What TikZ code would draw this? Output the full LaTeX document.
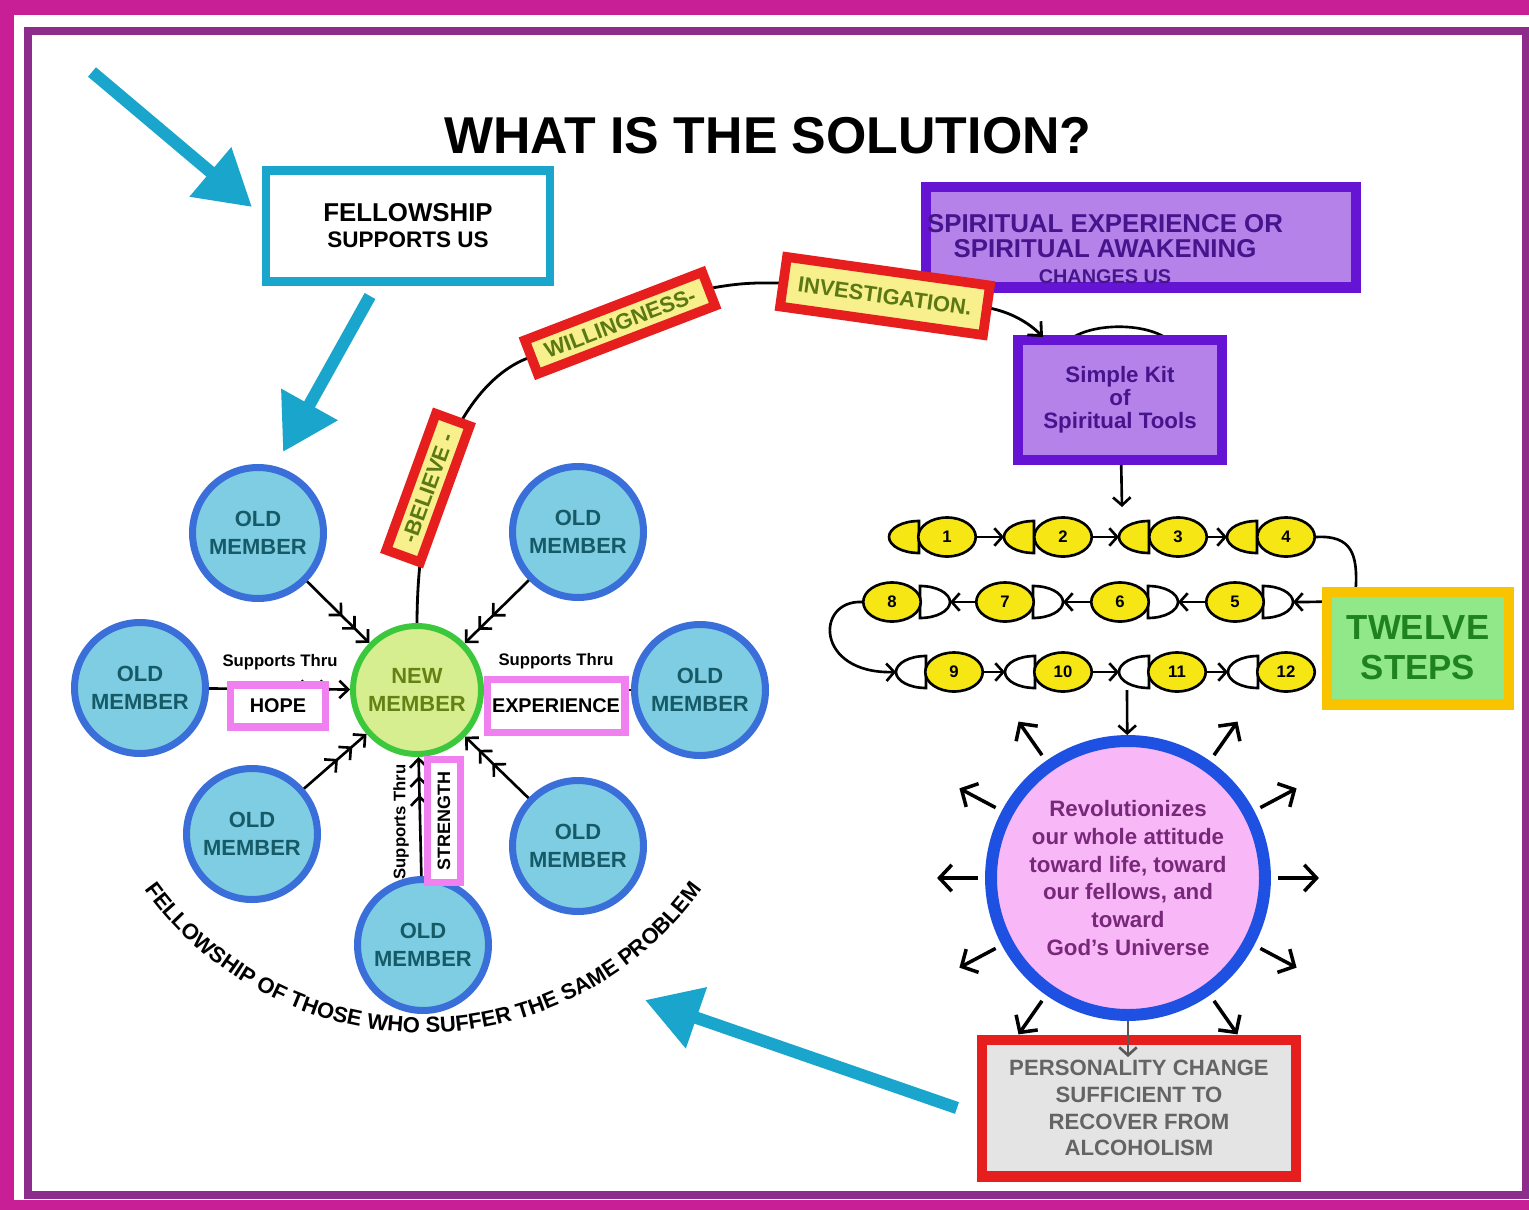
\documentclass[tikz,border=0pt]{standalone}
\usepackage{fontspec}
\setmainfont{Liberation Sans}
\usepackage{xcolor}
\usetikzlibrary{positioning, arrows.meta, shapes.geometric, decorations.text}

\definecolor{framemag}{RGB}{200,30,150}
\definecolor{framepurple}{RGB}{142,44,140}
\definecolor{arrowcyan}{RGB}{26,166,204}
\definecolor{oldfill}{RGB}{126,205,226}
\definecolor{oldline}{RGB}{58,110,216}
\definecolor{oldtext}{RGB}{22,90,104}
\definecolor{newfill}{RGB}{214,238,144}
\definecolor{newline}{RGB}{60,200,60}
\definecolor{newtext}{RGB}{100,130,20}
\definecolor{pinkline}{RGB}{240,128,240}
\definecolor{tagred}{RGB}{230,30,30}
\definecolor{tagyellow}{RGB}{248,240,140}
\definecolor{tagtext}{RGB}{90,120,20}
\definecolor{spline}{RGB}{100,20,210}
\definecolor{spfill}{RGB}{180,130,232}
\definecolor{sptext}{RGB}{70,20,140}
\definecolor{stepyellow}{RGB}{245,230,20}
\definecolor{twelveline}{RGB}{250,195,0}
\definecolor{twelvefill}{RGB}{144,232,136}
\definecolor{twelvetext}{RGB}{30,130,30}
\definecolor{revline}{RGB}{30,80,225}
\definecolor{revfill}{RGB}{248,184,248}
\definecolor{revtext}{RGB}{120,40,120}
\definecolor{persfill}{RGB}{228,228,228}
\definecolor{perstext}{RGB}{100,100,100}

\newcommand{\curvefont}{\bfseries\fontsize{12.5}{14}\selectfont}

\begin{document}
\begin{tikzpicture}[
  x=0.02cm, y=-0.02cm,
  every node/.style={font=\bfseries},
  oldmember/.style={circle, draw=oldline, fill=oldfill, line width=4pt, minimum size=2.62cm, inner sep=0pt, text=oldtext, align=center, font=\bfseries\fontsize{12.5}{15.6}\selectfont},
  newmember/.style={circle, draw=newline, fill=newfill, line width=3.4pt, minimum size=2.56cm, inner sep=0pt, text=newtext, align=center, font=\bfseries\fontsize{12.5}{15.6}\selectfont},
  feed/.style={line width=1.5pt, -{Straight Barb[length=5pt,width=10pt,sep=4pt] Straight Barb[length=5pt,width=10pt,sep=4pt] Straight Barb[length=5pt,width=10pt]}},
  supports/.style={font=\bfseries\fontsize{9.5}{11}\selectfont},
  pinkbox/.style={rectangle, draw=pinkline, fill=white, line width=4pt, inner sep=1pt, font=\bfseries\fontsize{11.3}{13}\selectfont},
  tagbox/.style={rectangle, draw=tagred, fill=tagyellow, line width=5.5pt, minimum height=0.72cm, inner sep=1pt, text=tagtext, font=\bfseries\fontsize{12.5}{14}\selectfont},
  spbox/.style={rectangle, draw=spline, fill=spfill, line width=5.7pt},
  stepnum/.style={ellipse, draw, line width=1.5pt, fill=stepyellow, minimum width=1.15cm, minimum height=0.78cm, inner sep=0pt, font=\bfseries\fontsize{9.5}{11}\selectfont},
  dpiece/.style={draw, line width=1.5pt},
  steparrow/.style={line width=1.5pt, -{Straight Barb[length=4.5pt,width=10pt]}},
  rayarrow/.style={line width=2pt, -{Straight Barb[length=7pt,width=15pt]}},
  cyanarrow/.style={draw=arrowcyan, line width=7pt, -{Triangle[length=31pt,width=35pt]}}
]
\useasboundingbox (0,0) rectangle (1529,1210);

% Frame
\fill[framemag] (0,0) rectangle (1529,1210);
\fill[white] (14,15) rectangle (1529,1200);
\draw[framepurple, line width=4pt] (28,31) rectangle (1526,1195);

% Title
\node[font=\bfseries\fontsize{29.5}{33}\selectfont] (title) at (768,136) {WHAT IS THE SOLUTION?};

% Fellowship box and cyan arrows
\node[draw=arrowcyan, line width=5pt, minimum width=5.68cm, minimum height=2.22cm, align=center, font=\bfseries\fontsize{14.7}{14.7}\selectfont] (fellow) at (408,226) {FELLOWSHIP\\{\fontsize{12.8}{14}\selectfont SUPPORTS US}};
\coordinate (cyanAtail) at (92,72);
\coordinate (cyanAtip) at (252,207);
\coordinate (cyanBtail) at (370,296);
\coordinate (cyanBtip) at (283,452);
\coordinate (cyanCtail) at (957,1108);
\coordinate (cyanCtip) at (645,1000);
\draw[cyanarrow] (cyanAtail) -- (cyanAtip);
\draw[cyanarrow] (cyanBtail) -- (cyanBtip);
\draw[cyanarrow] (cyanCtail) -- (cyanCtip);

% Spiritual boxes
\node[spbox, minimum width=8.62cm, minimum height=2.02cm] (spirit) at (1141,237) {};
\node[text=sptext, align=center, font=\bfseries\fontsize{14.7}{14.7}\selectfont] (spirittext) at (1105,249) {SPIRITUAL EXPERIENCE OR\\SPIRITUAL AWAKENING\\{\fontsize{11.3}{12}\selectfont CHANGES US}};
\draw[line width=1.5pt] (1068,341) .. controls (1090,322) and (1148,322) .. (1170,341);
\node[spbox, minimum width=4.1cm, minimum height=2.4cm, text=sptext, align=center, font=\bfseries\fontsize{12.7}{13}\selectfont] (kit) at (1120,400) {Simple Kit\\of\\Spiritual Tools};

% Path from new member to the kit
\coordinate (kitin) at (1043,337);
\draw[line width=1.6pt, -{Straight Barb[length=6pt,width=11pt]}] (417,625) .. controls (417,470) and (470,380) .. (528,358) -- (712,288) .. controls (745,282) and (760,283) .. (782,283) -- (989,308) .. controls (1010,312) and (1028,322) .. (kitin);
\node[tagbox, rotate=70, minimum width=2.9cm] (believe) at (428,488) {-BELIEVE -};
\node[tagbox, rotate=21, minimum width=3.8cm] (willing) at (620,323) {WILLINGNESS-};
\node[tagbox, rotate=-8, minimum width=4.1cm, minimum height=1.0cm] (investig) at (885,296) {INVESTIGATION.};

% Twelve steps
\coordinate (kitout) at (1122,507);
\draw[steparrow] (kit) -- (kitout);
\coordinate (d1) at (889,537);
\coordinate (d2) at (1004,537);
\coordinate (d3) at (1119,537);
\coordinate (d4) at (1227,537);
\coordinate (d8) at (950,602);
\coordinate (d7) at (1063,602);
\coordinate (d6) at (1178,602);
\coordinate (d5) at (1293,602);
\coordinate (d9) at (896,672);
\coordinate (d10) at (1005,672);
\coordinate (d11) at (1119,672);
\coordinate (d12) at (1228,672);
\foreach \d in {d1,d2,d3,d4}
  \draw[dpiece, fill=stepyellow] (\d) ++(30,-16) arc[start angle=90, end angle=270, x radius=0.6cm, y radius=0.32cm] -- cycle;
\foreach \d in {d9,d10,d11,d12}
  \draw[dpiece, fill=white] (\d) ++(30,-16) arc[start angle=90, end angle=270, x radius=0.6cm, y radius=0.32cm] -- cycle;
\foreach \d in {d5,d6,d7,d8}
  \draw[dpiece, fill=white] (\d) ++(-30,-16) arc[start angle=90, end angle=-90, x radius=0.6cm, y radius=0.32cm] -- cycle;
\node[stepnum] (s1) at (947,537) {1};
\node[stepnum] (s2) at (1063,537) {2};
\node[stepnum] (s3) at (1178,537) {3};
\node[stepnum] (s4) at (1286,537) {4};
\node[stepnum] (s8) at (892,602) {8};
\node[stepnum] (s7) at (1005,602) {7};
\node[stepnum] (s6) at (1120,602) {6};
\node[stepnum] (s5) at (1235,602) {5};
\node[stepnum] (s9) at (954,672) {9};
\node[stepnum] (s10) at (1063,672) {10};
\node[stepnum] (s11) at (1177,672) {11};
\node[stepnum] (s12) at (1286,672) {12};
\draw[steparrow] (s1) -- (d2);
\draw[steparrow] (s2) -- (d3);
\draw[steparrow] (s3) -- (d4);
\draw[steparrow] (s4.east) .. controls (1352,535) and (1357,555) .. (1356,585) .. controls (1355,600) and (1345,602) .. (d5);
\draw[steparrow] (s5) -- (d6);
\draw[steparrow] (s6) -- (d7);
\draw[steparrow] (s7) -- (d8);
\draw[steparrow] (s8.west) .. controls (815,600) and (815,674) .. (d9);
\draw[steparrow] (s9) -- (d10);
\draw[steparrow] (s10) -- (d11);
\draw[steparrow] (s11) -- (d12);
\node[draw=twelveline, fill=twelvefill, line width=5.7pt, minimum width=3.64cm, minimum height=2.26cm, text=twelvetext, align=center, font=\bfseries\fontsize{19.8}{22.7}\selectfont] (twelve) at (1418,648) {TWELVE\\STEPS};

% Revolution circle
\node[circle, draw=revline, fill=revfill, line width=6.8pt, minimum size=5.48cm, inner sep=0pt, text=revtext, align=center, font=\bfseries\fontsize{12.7}{15.9}\selectfont] (rev) at (1128,878) {Revolutionizes\\our whole attitude\\toward life, toward\\our fellows, and\\toward\\God's Universe};
\coordinate (rowout) at (1127,690);
\draw[steparrow] (rowout) -- (rev);
\foreach \a in {0,28,55,125,152,180,208,235,305,332}
  \draw[rayarrow] (rev.\a) ++(\a:0.14cm) -- ++(\a:0.82cm);

% Personality change
\node[draw=tagred, fill=persfill, line width=5.7pt, minimum width=6.28cm, minimum height=2.74cm, text=perstext, align=center, font=\bfseries\fontsize{12.6}{15.3}\selectfont] (pers) at (1139,1108) {PERSONALITY CHANGE\\SUFFICIENT TO\\RECOVER FROM\\ALCOHOLISM};
\coordinate (persin) at (1128,1057);
\draw[steparrow, draw=black!65] (rev) -- (persin);

% Members
\node[oldmember] (om1) at (258,533) {OLD\\MEMBER};
\node[oldmember] (om2) at (578,532) {OLD\\MEMBER};
\node[oldmember] (om3) at (140,688) {OLD\\MEMBER};
\node[oldmember] (om4) at (700,690) {OLD\\MEMBER};
\node[oldmember] (om5) at (252,834) {OLD\\MEMBER};
\node[oldmember] (om6) at (578,846) {OLD\\MEMBER};
\node[oldmember] (om7) at (423,945) {OLD\\MEMBER};
\node[newmember] (new) at (417,690) {NEW\\MEMBER};
\draw[feed] (om1) -- (new);
\draw[feed] (om2) -- (new);
\draw[feed] (om3) -- (new);
\draw[feed] (om4) -- (new);
\draw[feed] (om5) -- (new);
\draw[feed] (om6) -- (new);
\draw[feed] (om7) -- (new);

% Supports thru labels
\node[supports] (hopesup) at (280,662) {Supports Thru};
\node[pinkbox, minimum width=1.9cm, minimum height=0.84cm] (hope) at (278,706) {HOPE};
\node[supports] (expsup) at (556,661) {Supports Thru};
\node[pinkbox, minimum width=2.76cm, minimum height=1.06cm] (exp) at (556,706) {EXPERIENCE};
\node[supports, rotate=90] (strsup) at (401,822) {Supports Thru};
\node[pinkbox, rotate=90, minimum width=2.46cm, minimum height=0.66cm, font=\bfseries\fontsize{10.2}{12}\selectfont] (strength) at (444,821) {STRENGTH};

% Curved caption
\path[decorate, decoration={text along path, text align=center, text={|\curvefont|FELLOWSHIP OF THOSE WHO SUFFER THE SAME PROBLEM}}] (101,807) arc[start angle=200, end angle=340, radius=6.86cm];

\end{tikzpicture}
\end{document}
